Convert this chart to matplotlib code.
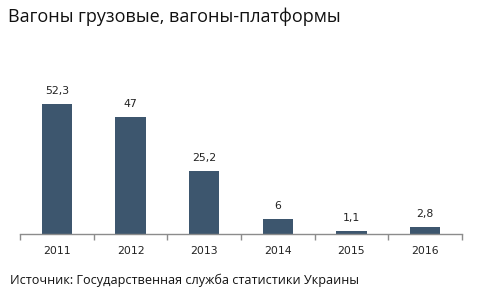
import matplotlib
matplotlib.use("Agg")
import matplotlib.pyplot as plt

years = ["2011", "2012", "2013", "2014", "2015", "2016"]
values = [52.3, 47, 25.2, 6, 1.1, 2.8]
labels = ["52,3", "47", "25,2", "6", "1,1", "2,8"]

W, H = 479, 289
fig = plt.figure(figsize=(W/100, H/100), dpi=100)
ax = fig.add_axes([20/W, 55/H, 442/W, 174/H])
x = list(range(len(years)))
ax.bar(x, values, width=0.41, color="#3D566E")
ax.set_xlim(-0.5, len(years) - 0.5)
ax.set_ylim(0, 70)
for s in ["top", "right", "left"]:
    ax.spines[s].set_visible(False)
ax.spines["bottom"].set_color("#8C8C8C")
ax.spines["bottom"].set_linewidth(1)
ax.set_yticks([])
ax.set_xticks([i - 0.5 for i in range(len(years) + 1)], minor=False)
ax.set_xticklabels([])
ax.tick_params(axis="x", which="major", direction="out", length=4, color="#8C8C8C", width=1)
ax.set_xticks(x, minor=True)
ax.set_xticklabels(years, minor=True, fontsize=7.8, family="DejaVu Sans", color="#222222")
ax.tick_params(axis="x", which="minor", length=0, pad=9)
for xi, v, l in zip(x, values, labels):
    ax.annotate(l, (xi, v), xytext=(0, 6), textcoords="offset points",
                ha="center", va="bottom", fontsize=7.8, color="#222222")
fig.text(8/W, 1 - 17/H, "Вагоны грузовые, вагоны-платформы", fontsize=13,
         family="Open Sans", va="center", ha="left", color="#111111")
fig.text(10/W, 1 - 280/H, "Источник: Государственная служба статистики Украины", fontsize=9.1,
         family="Open Sans", va="center", ha="left", color="#111111")
fig.savefig("out.png", dpi=100)
